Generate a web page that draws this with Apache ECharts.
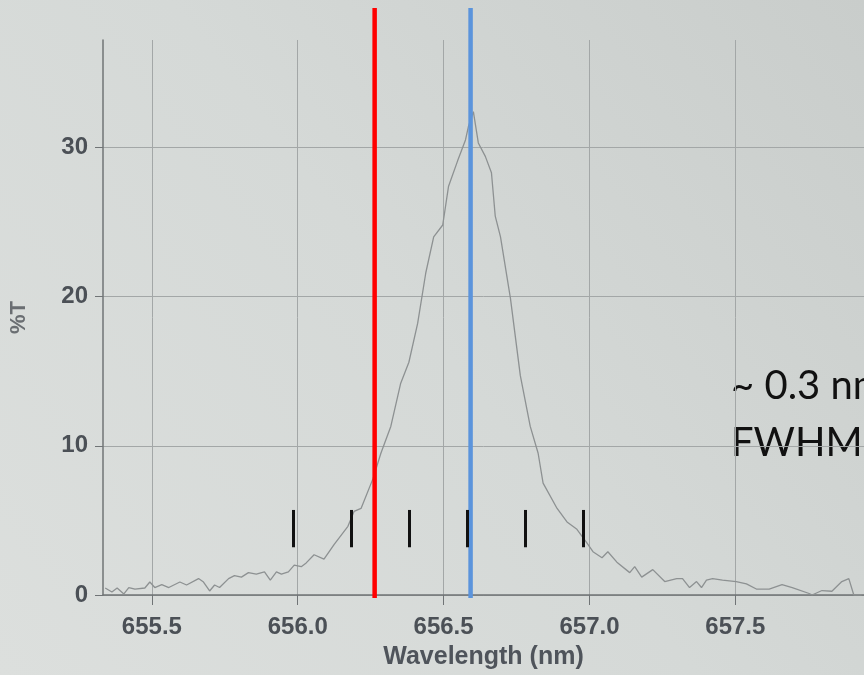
<!DOCTYPE html>
<html>
<head>
<meta charset="utf-8">
<script src="https://cdn.jsdelivr.net/npm/echarts@6/dist/echarts.min.js"></script>
<style>html,body{margin:0;padding:0;background:#d8dbd9}#c{width:864px;height:675px}</style>
</head>
<body>
<div id="c"></div>
<script>
// Wavelength (nm) samples
var wavelength = [655.340,655.363,655.381,655.404,655.421,655.442,655.476,655.493,655.510,655.534,655.558,655.596,655.619,655.660,655.677,655.698,655.715,655.732,655.763,655.783,655.807,655.831,655.858,655.886,655.906,655.927,655.944,655.968,655.988,656.012,656.029,656.056,656.090,656.125,656.172,656.193,656.217,656.258,656.285,656.319,656.353,656.381,656.411,656.439,656.466,656.497,656.517,656.548,656.575,656.585,656.602,656.619,656.643,656.664,656.677,656.695,656.729,656.763,656.797,656.824,656.841,656.889,656.923,656.957,656.991,657.012,657.043,657.063,657.094,657.138,657.155,657.179,657.217,657.258,657.299,657.319,657.343,657.367,657.384,657.401,657.422,657.456,657.503,657.538,657.572,657.616,657.660,657.695,657.753,657.763,657.797,657.831,657.865,657.889,657.906,657.933];
// %T values
var transmittance = [0.47,0.2,0.47,0.07,0.5,0.4,0.47,0.87,0.5,0.7,0.5,0.87,0.67,1.1,0.87,0.27,0.67,0.5,1.1,1.3,1.2,1.5,1.4,1.55,1.0,1.55,1.4,1.55,2.0,1.9,2.15,2.7,2.4,3.4,4.6,5.6,5.8,7.8,9.5,11.3,14.2,15.6,18.2,21.6,24.0,24.8,27.4,29.1,30.5,31.4,32.4,30.3,29.4,28.3,25.4,24.0,19.9,14.7,11.3,9.5,7.5,5.8,4.9,4.4,3.5,2.9,2.5,2.9,2.2,1.5,1.9,1.2,1.7,0.9,1.1,1.1,0.5,0.9,0.5,1.0,1.1,1.0,0.9,0.75,0.4,0.4,0.7,0.5,0.1,0.0,0.3,0.25,0.9,1.1,0.0,0.0];
// vertical reference lines (nm)
var redLine = 656.268;
var blueLine = 656.596;
// short black markers (nm) and their %T span
var markerPositions = [655.985,656.183,656.381,656.582,656.780,656.978];
var markerSpan = [3.2, 5.7];
var annotationLines = ['~ 0.3 nm', 'FWHM'];
var xName = 'Wavelength (nm)';
var yName = '%T';

var xMin = 655.3325, xMax = 657.941, yMax = 37.2;
var gridC = '#a3a7a7';

var trace = wavelength.map(function(w, i){ return [w, transmittance[i]]; });
var markerData = markerPositions.map(function(w){
  return [{coord:[w, markerSpan[0]]},{coord:[w, markerSpan[1]]}];
});

var chart = echarts.init(document.getElementById('c'), null, {renderer:'canvas'});
chart.setOption({
  animation: false,
  backgroundColor: {
    type: 'linear', x: 0, y: 1, x2: 1, y2: 0,
    colorStops: [{offset:0, color:'#dcdfdd'},{offset:0.5,color:'#d5d9d7'},{offset:1, color:'#c9cdcb'}]
  },
  grid: [
    {left: 101, right: 0, top: 40, bottom: 79},
    {left: 101, right: 0, top: 8, bottom: 77}
  ],
  xAxis: [{
    type: 'value', gridIndex: 0, min: xMin, max: xMax, splitNumber: 5,
    name: xName, nameLocation: 'middle', nameGap: 50,
    nameTextStyle: {fontFamily:'Liberation Sans', fontWeight:'bold', fontSize:25, color:'#4f545b'},
    axisLine: {lineStyle:{color:'#707476', width:1.5}},
    axisTick: {length: 10, lineStyle:{color:'#707476'}},
    axisLabel: {margin: 20, fontFamily:'Liberation Sans', fontWeight:'bold', fontSize:24, color:'#4b5056',
      showMinLabel:false, showMaxLabel:false, formatter: function(v){ return v.toFixed(1); }},
    splitLine: {show:true, lineStyle:{color:['rgba(0,0,0,0)',gridC,gridC,gridC,gridC,gridC,'rgba(0,0,0,0)'], width:1}}
  },{
    type: 'value', gridIndex: 1, min: xMin, max: xMax, show: false
  }],
  yAxis: [{
    type: 'value', gridIndex: 0, min: 0, max: yMax, interval: 10,
    name: yName, nameLocation: 'middle', nameGap: 73,
    nameTextStyle: {fontFamily:'Liberation Sans', fontWeight:'bold', fontSize:22, color:'#6a6e72'},
    axisLine: {show:true, lineStyle:{color:'#707476', width:1.5}},
    axisTick: {show:true, length: 8, lineStyle:{color:'#707476'}},
    axisLabel: {margin: 15, fontFamily:'Liberation Sans', fontWeight:'bold', fontSize:24, color:'#4b5056', showMaxLabel:false},
    splitLine: {show:true, lineStyle:{color:[gridC,gridC,gridC,gridC,'rgba(0,0,0,0)'], width:1}}
  },{
    type: 'value', gridIndex: 1, min: 0, max: 1, show: false
  }],
  series: [{
    type: 'line', xAxisIndex: 0, yAxisIndex: 0, data: trace, symbol: 'none',
    lineStyle: {color:'#8d9192', width:1.3}, silent: true,
    markLine: {
      silent: true, symbol: ['none','none'], label:{show:false},
      lineStyle: {color:'#111111', width:3, type:'solid'},
      data: markerData
    }
  },{
    type: 'line', xAxisIndex: 1, yAxisIndex: 1, symbol: 'none', silent: true,
    data: [[redLine, 0],[redLine, 1]], lineStyle: {color:'#ff0000', width:4.5}
  },{
    type: 'line', xAxisIndex: 1, yAxisIndex: 1, symbol: 'none', silent: true,
    data: [[blueLine, 0],[blueLine, 1]], lineStyle: {color:'#5b94dc', width:4.5}
  }],
  graphic: [{
    type: 'text', left: 731, top: 358, silent: true,
    style: {text: annotationLines.join('\n'), font: '40px Lato', fill: '#111111', lineHeight: 57}
  }]
});
</script>
</body>
</html>
